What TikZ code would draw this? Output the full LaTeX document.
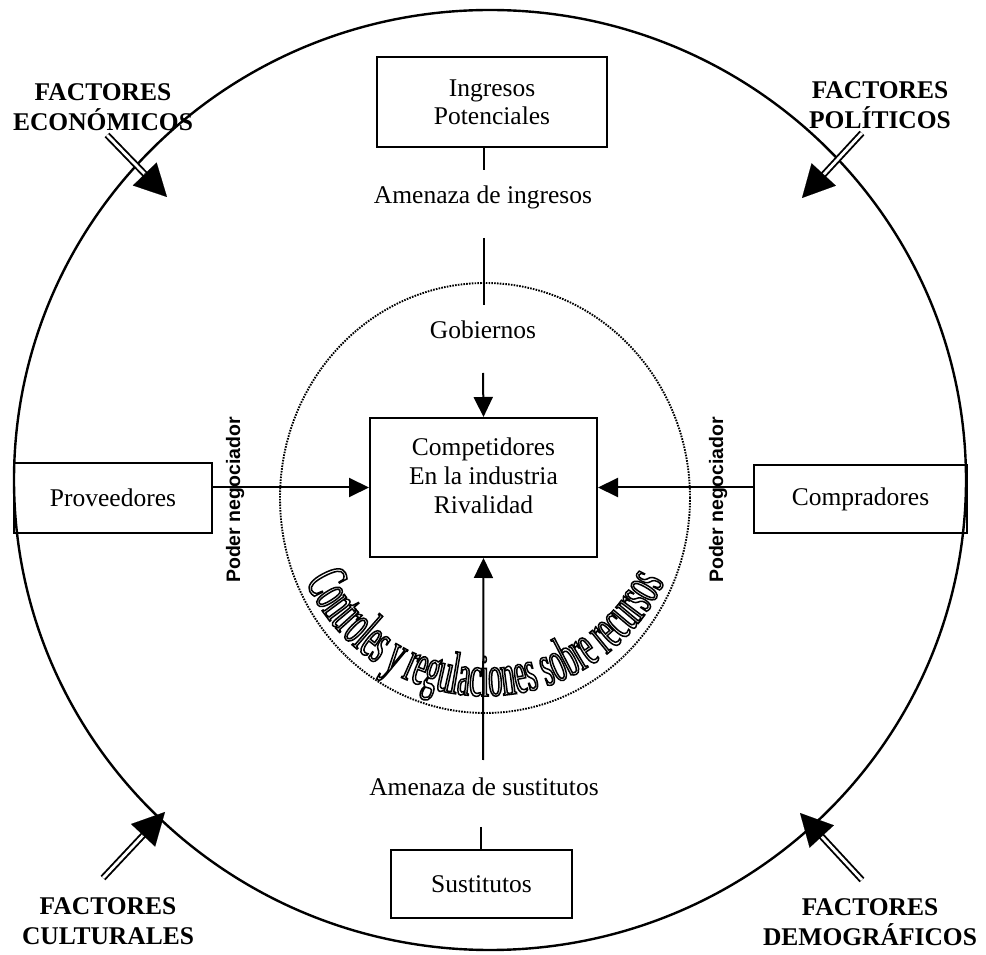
\documentclass[tikz,border=0pt]{standalone}
\usepackage{fontspec}
\setmainfont{Liberation Serif}
\newfontfamily\psans{Liberation Sans}
\newfontfamily\arcfont[FakeStretch=0.47]{Liberation Serif}
\usetikzlibrary{arrows.meta,calc,decorations.text,shapes.geometric}
\begin{document}
\begin{tikzpicture}[x=1pt,y=1pt,
  box/.style={draw, line width=2pt, inner sep=0pt, align=center,
    font=\fontsize{25.5}{28}\selectfont},
  lbl/.style={inner sep=0pt, align=center, font=\fontsize{25.5}{29}\selectfont},
  factor/.style={inner sep=0pt, align=center, font=\bfseries\fontsize{25.5}{30}\selectfont},
  poder/.style={inner sep=0pt, rotate=90, font=\psans\bfseries\fontsize{19.5}{20}\selectfont},
  conn/.style={line width=2pt},
  arr/.style={line width=2pt, -{Triangle[length=20pt,width=19pt]}},
  fshaft/.style={double, double distance=2.8pt, line width=1.9pt},
  fhead/.style={line width=0.1pt, -{Triangle[length=32pt,width=33pt]}}
]
\useasboundingbox (0,0) rectangle (986,954);
% outer circle
\draw[line width=2.4pt] (490,474) ellipse [x radius=476, y radius=470];
% dotted inner circle
\draw[line width=1.9pt, dash pattern=on 1.6pt off 1.2pt] (485,456) ellipse [x radius=205, y radius=215];

% boxes
\node[box, minimum width=230, minimum height=90] (ing) at (492,852) {Ingresos\\Potenciales};
\node[box, minimum width=227, minimum height=139] (cen) at (483.5,466.5) {};
\node[lbl] (centxt) at (483.5,478) {Competidores\\En la industria\\Rivalidad};
\node[box, minimum width=198, minimum height=70] (prov) at (113,456) {Proveedores};
\node[box, minimum width=213, minimum height=68] (comp) at (860.5,455) {Compradores};
\node[box, minimum width=181, minimum height=68] (sust) at (481.5,70) {Sustitutos};

% labels
\node[lbl] (amI) at (483,757) {Amenaza de ingresos};
\node[lbl] (gob) at (483,624) {Gobiernos};
\node[lbl] (amS) at (484,167) {Amenaza de sustitutos};
\node[poder] (pnl) at (235,454) {Poder negociador};
\node[poder] (pnr) at (718,454) {Poder negociador};

% top connectors
\coordinate (t1) at (484,807);
\coordinate (t2) at (484,784);
\coordinate (t3) at (484,716);
\coordinate (t4) at (484,649);
\draw[conn] (t1) -- (t2);
\draw[conn] (t3) -- (t4);
\coordinate (g1) at (483,581);
\draw[arr] (g1) -- (cen.north);
% side arrows
\draw[arr] (prov.east |- cen.west) -- (cen.west);
\draw[arr] (comp.west |- cen.east) -- (cen.east);
% bottom
\coordinate (b1) at (483,194);
\draw[arr] (b1) -- (cen.south);
\coordinate (b2) at (481,127);
\draw[conn] (b2) -- (sust.north -| b2);

% factor labels
\node[factor] (eco) at (103,847) {FACTORES\\ECONÓMICOS};
\node[factor] (pol) at (880,849) {FACTORES\\POLÍTICOS};
\node[factor] (cul) at (108,33) {FACTORES\\CULTURALES};
\node[factor] (dem) at (870,32) {FACTORES\\DEMOGRÁFICOS};

% factor arrows
\coordinate (ecoS) at (107,819); \coordinate (ecoT) at (167,757);
\coordinate (polS) at (862,821); \coordinate (polT) at (802,756);
\coordinate (culS) at (103,76);  \coordinate (culT) at (165,142);
\coordinate (demS) at (862,74);  \coordinate (demT) at (800,141);
\foreach \f in {eco,pol,cul,dem}{
  \draw[fshaft] (\f S) -- ($(\f T)!30pt!(\f S)$);
  \draw[fhead] ($(\f T)!33pt!(\f S)$) -- (\f T);
}

% curved outlined text
\special{pdf:literal direct 1 Tr 1.5 w}
\path[decorate, decoration={text along path, text align=center,
  text={|\arcfont\fontsize{60}{60}\selectfont|Controles y regulaciones sobre recursos}}]
  (485,456) ++(205:198) arc [start angle=205, end angle=335, radius=198];
\special{pdf:literal direct 0 Tr}
\end{tikzpicture}
\end{document}
